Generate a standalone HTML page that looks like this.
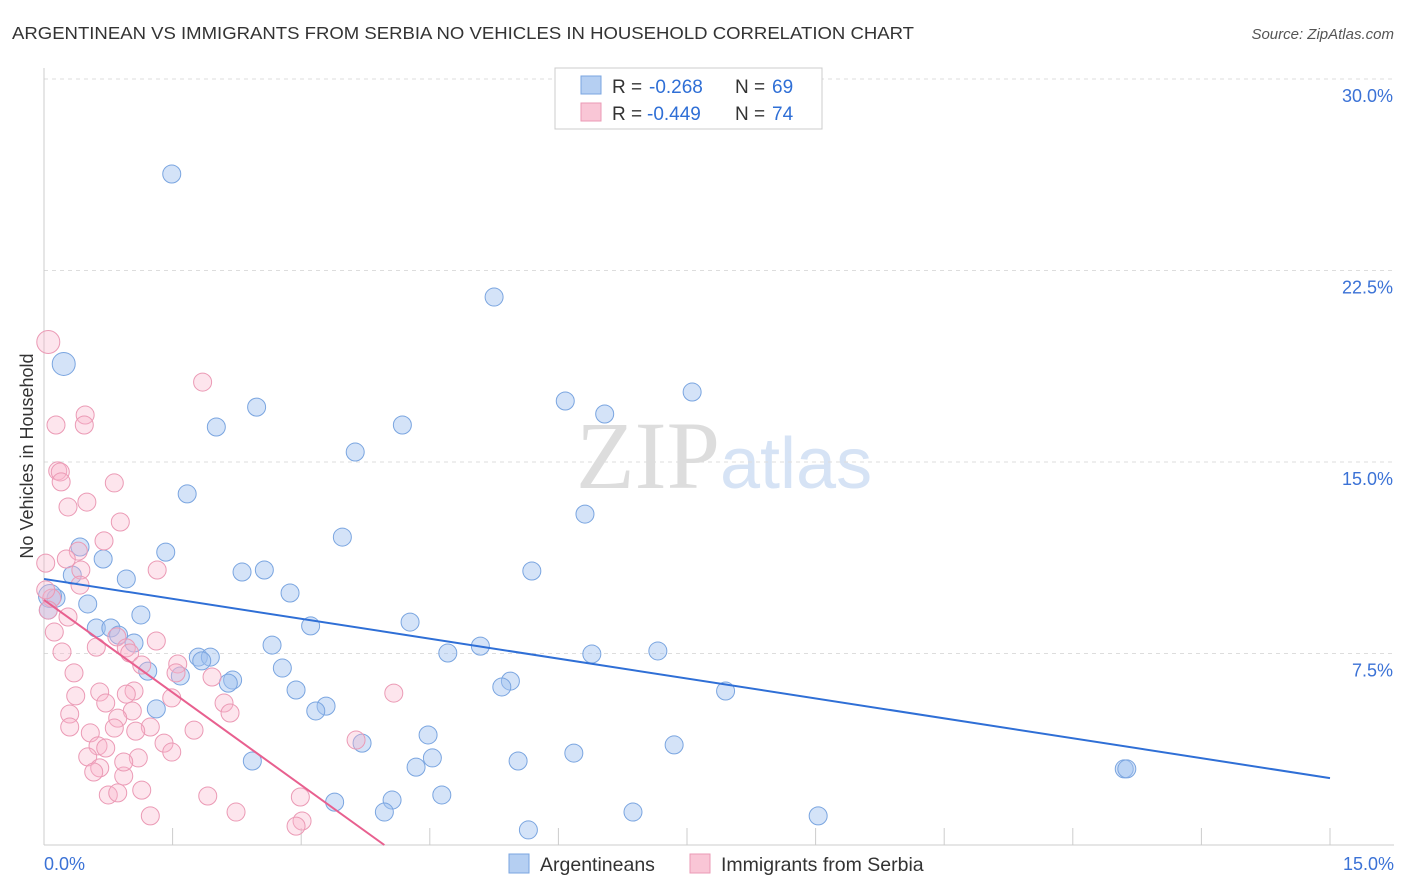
<!DOCTYPE html>
<html><head><meta charset="utf-8"><style>
body{margin:0;background:#fff;font-family:"Liberation Sans",sans-serif;}
#wrap{position:relative;width:1406px;height:892px;overflow:hidden;}
</style></head><body>
<div id="wrap">
<svg id="svg" width="1406" height="892" xmlns="http://www.w3.org/2000/svg">
<text x="12" y="39" font-size="17.5" fill="#333" textLength="902" lengthAdjust="spacingAndGlyphs">ARGENTINEAN VS IMMIGRANTS FROM SERBIA NO VEHICLES IN HOUSEHOLD CORRELATION CHART</text>
<text x="1394" y="39" font-size="15" fill="#555" font-style="italic" text-anchor="end">Source: ZipAtlas.com</text>
<text x="720" y="488" font-size="96" fill="#ddd" text-anchor="end" font-family="Liberation Serif">ZIP</text>
<text x="720" y="488" font-size="72" fill="#d6e3f5">atlas</text>
<g id="grid"></g><g id="axes"></g><g id="pts"></g><g id="lines"></g>
<text transform="translate(33,456) rotate(-90)" font-size="18" fill="#333" text-anchor="middle">No Vehicles in Household</text>
<g>
<rect x="555" y="68" width="267" height="61" fill="#fff" stroke="#ccc"/>
<rect x="581" y="76" width="20" height="18" fill="#b5cff2" stroke="#7aa5e0"/>
<rect x="581" y="103" width="20" height="18" fill="#f9c6d6" stroke="#eb9ab5"/>
<text x="612" y="93" font-size="19" fill="#333">R =</text>
<text x="649" y="93" font-size="19" fill="#2f6fd6">-0.268</text>
<text x="735" y="93" font-size="19" fill="#333">N =</text>
<text x="772" y="93" font-size="19" fill="#2f6fd6">69</text>
<text x="612" y="120" font-size="19" fill="#333">R =</text>
<text x="647" y="120" font-size="19" fill="#2f6fd6">-0.449</text>
<text x="735" y="120" font-size="19" fill="#333">N =</text>
<text x="772" y="120" font-size="19" fill="#2f6fd6">74</text>
</g>
<g>
<rect x="509" y="854" width="20" height="19" fill="#b5cff2" stroke="#7aa5e0"/>
<text x="540" y="871" font-size="19.5" fill="#333">Argentineans</text>
<rect x="690" y="854" width="20" height="19" fill="#f9c6d6" stroke="#eb9ab5"/>
<text x="721" y="871" font-size="19.5" fill="#333">Immigrants from Serbia</text>
</g>
</svg>
</div>
<script>
const xTickLabels=["0.0%","15.0%"];
const yTicks=[7.5,15,22.5,30];
const yTickLabels=["7.5%","15.0%","22.5%","30.0%"];
const blueX=[1.49,5.25,0.23,7.56,6.08,2.48,6.54,4.18,2.01,3.63,1.67,6.31,3.48,0.42,1.42,0.69,5.69,2.31,2.57,0.33,0.96,2.87,0.14,0.51,1.13,4.27,3.11,0.61,0.78,0.87,1.05,2.66,5.09,4.71,6.39,7.16,1.80,1.94,1.84,1.21,2.78,1.59,2.20,2.15,5.44,5.34,2.94,7.95,3.29,3.17,1.31,4.48,3.71,7.35,6.18,2.43,5.53,4.53,4.34,12.60,12.63,4.64,4.06,3.39,3.97,6.87,9.03,5.65,0.07,0.05];
const blueY=[26.28,21.46,18.84,17.74,17.39,17.15,16.88,16.45,16.37,15.39,13.75,12.96,12.06,11.67,11.47,11.20,10.73,10.69,10.77,10.57,10.42,9.87,9.67,9.44,9.01,8.73,8.58,8.50,8.50,8.22,7.91,7.83,7.79,7.52,7.48,7.60,7.36,7.36,7.21,6.81,6.93,6.62,6.46,6.34,6.42,6.19,6.07,6.03,5.44,5.25,5.33,4.31,3.99,3.92,3.60,3.29,3.29,3.41,3.05,2.98,2.98,1.96,1.76,1.68,1.29,1.29,1.14,0.59,9.75,9.20];
const pinkX=[0.05,1.85,0.48,0.47,0.14,0.16,0.19,0.20,0.50,0.82,0.28,0.89,0.70,0.40,0.26,0.02,0.43,1.32,0.42,0.09,0.05,0.28,0.12,0.85,0.61,1.31,0.96,0.21,1.00,1.14,1.56,1.54,0.35,1.96,0.65,1.05,0.96,0.37,1.49,4.08,0.72,2.10,0.30,1.03,2.17,0.86,1.24,0.30,0.82,1.75,0.54,1.07,1.40,0.63,0.72,1.49,0.51,1.10,0.65,0.93,0.58,3.64,0.75,0.86,1.14,1.91,2.99,2.24,1.24,3.01,2.94,0.93,0.02];
const pinkY=[19.70,18.13,16.84,16.45,16.45,14.65,14.61,14.22,13.43,14.18,13.24,12.65,11.91,11.51,11.20,11.04,10.77,10.77,10.18,9.67,9.20,8.93,8.34,8.15,7.75,7.99,7.72,7.56,7.52,7.05,7.09,6.74,6.74,6.58,5.99,6.03,5.91,5.84,5.76,5.95,5.56,5.56,5.13,5.25,5.17,4.97,4.62,4.62,4.58,4.50,4.39,4.46,3.99,3.88,3.80,3.64,3.45,3.41,3.02,2.70,2.86,4.11,1.96,2.04,2.15,1.92,1.88,1.29,1.14,0.94,0.74,3.25,9.99];
const blueBig=[2,68];const pinkBig=[0];
const blueTrend=[10.42,2.62];const pinkTrend=[9.60,0,3.97];
const NS="http://www.w3.org/2000/svg";
const X=v=>44+v/15*1286, Y=v=>845-v/7.5*191.5;
function mk(t,a,p){const e=document.createElementNS(NS,t);for(const k in a)e.setAttribute(k,a[k]);p.appendChild(e);return e;}
const grid=document.getElementById('grid'),axes=document.getElementById('axes'),pts=document.getElementById('pts'),lines=document.getElementById('lines');
yTicks.forEach((t,i)=>{
 const l=mk('line',{x1:44,x2:1394,y1:Y(t),y2:Y(t),stroke:'#ddd','stroke-dasharray':'4,4'},grid);
 
 
 const tx=mk('text',{x:1393,y:Y(t)+23,'font-size':18,fill:'#3b72d6','text-anchor':'end'},axes);
 tx.textContent=yTickLabels[i];
 
 
});
mk('line',{x1:44,x2:44,y1:68,y2:845,stroke:'#ccc'},axes);
mk('line',{x1:44,x2:1394,y1:845,y2:845,stroke:'#ccc'},axes);
for(let i=1;i<=10;i++){const xt=X(i*1.5);const t=mk('line',{x1:xt,x2:xt,y1:828,y2:845,stroke:'#ccc'},axes);
 
 }
const l0=mk('text',{x:44,y:870,'font-size':18,fill:'#3b72d6'},axes);l0.textContent=xTickLabels[0];


const l1=mk('text',{x:1394,y:870,'font-size':18,fill:'#3b72d6','text-anchor':'end'},axes);l1.textContent=xTickLabels[1];


blueX.forEach((v,i)=>{const c=mk('circle',{cx:X(v),cy:Y(blueY[i]),r:blueBig.includes(i)?11.5:9,fill:'rgba(160,192,240,0.45)',stroke:'#7aa5e0','stroke-width':1},pts);
 
 });
pinkX.forEach((v,i)=>{const c=mk('circle',{cx:X(v),cy:Y(pinkY[i]),r:pinkBig.includes(i)?11.5:9,fill:'rgba(248,180,204,0.35)',stroke:'#eb9ab5','stroke-width':1},pts);
 
 });
const bt=mk('line',{x1:X(0),y1:Y(blueTrend[0]),x2:X(15),y2:Y(blueTrend[1]),stroke:'#2f6fd6','stroke-width':2},lines);


const pt=mk('line',{x1:X(0),y1:Y(pinkTrend[0]),x2:X(pinkTrend[2]),y2:Y(pinkTrend[1]),stroke:'#e8608f','stroke-width':2},lines);


</script>
</body></html>
